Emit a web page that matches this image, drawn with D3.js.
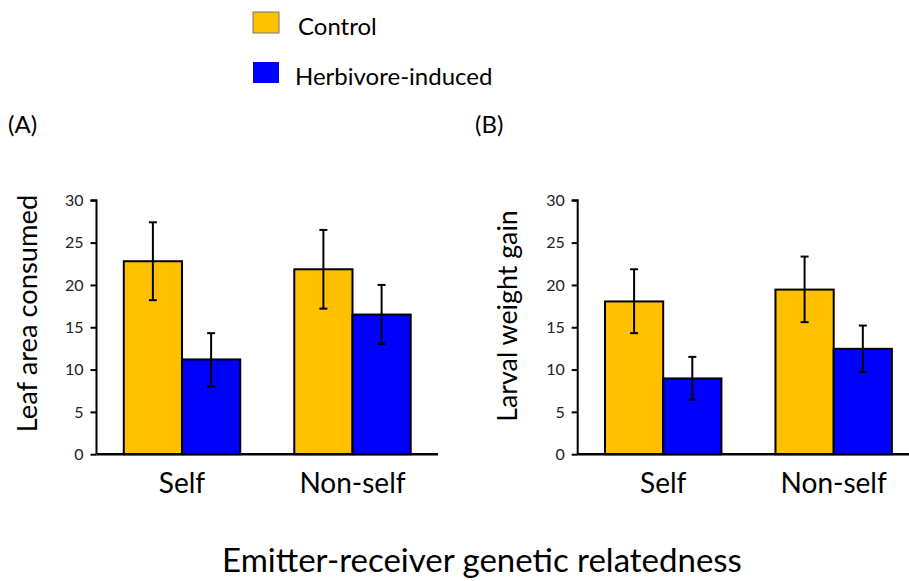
<!DOCTYPE html>
<html><head><meta charset="utf-8">
<script src="https://cdn.jsdelivr.net/npm/d3@7/dist/d3.min.js"></script>
<style>body{margin:0;background:#fff}svg{display:block}text{font-family:Lato,"Open Sans",sans-serif}</style>
</head><body><svg id="c" width="909" height="581"></svg>
<script>
const categories = ["Self", "Non-self"];
const seriesNames = ["Control", "Herbivore-induced"];
const leafMean = [[22.8, 11.2], [21.85, 16.5]];
const leafLow  = [[18.2, 8.0], [17.2, 13.0]];
const leafHigh = [[27.4, 14.3], [26.5, 20.0]];
const larvaMean = [[18.05, 8.95], [19.45, 12.45]];
const larvaLow  = [[14.3, 6.45], [15.6, 9.7]];
const larvaHigh = [[21.85, 11.5], [23.35, 15.2]];
const yTicks = [0, 5, 10, 15, 20, 25, 30];
const colors = ["#FFC000", "#0000FF"];

const svg = d3.select("#c");

function panel(ox, mean, low, high, ylabel, ylabX, ylabY, ylabSize, tag, tagX) {
  const w = 341.5, top = 200.3, bottom = 454.2;
  const g = svg.append("g");
  const x0 = d3.scaleBand().domain(categories).range([ox, ox + w]).paddingInner(0.317).paddingOuter(0.16);
  const x1 = d3.scaleBand().domain(seriesNames).range([0, x0.bandwidth()]);
  const y = d3.scaleLinear().domain([0, 30]).range([bottom, top]);

  categories.forEach((c, ci) => {
    seriesNames.forEach((s, si) => {
      g.append("rect")
        .attr("x", x0(c) + x1(s)).attr("y", y(mean[ci][si]))
        .attr("width", x1.bandwidth()).attr("height", y(0) - y(mean[ci][si]))
        .attr("fill", colors[si]).attr("stroke", "#000").attr("stroke-width", 2);
    });
  });
  categories.forEach((c, ci) => {
    seriesNames.forEach((s, si) => {
      const cx = x0(c) + x1(s) + x1.bandwidth() / 2;
      g.append("line").attr("x1", cx).attr("x2", cx).attr("y1", y(low[ci][si])).attr("y2", y(high[ci][si]))
        .attr("stroke", "#000").attr("stroke-width", 2);
      [low[ci][si], high[ci][si]].forEach(v => {
        g.append("line").attr("x1", cx - 4).attr("x2", cx + 4).attr("y1", y(v)).attr("y2", y(v))
          .attr("stroke", "#000").attr("stroke-width", 2);
      });
    });
  });

  const ya = d3.axisLeft(y).tickValues(yTicks).tickSize(6).tickPadding(7);
  const yg = g.append("g").attr("transform", `translate(${ox},0)`).call(ya);
  yg.select(".domain").attr("stroke", "#000").attr("stroke-width", 2).attr("d", `M-6,${top}H0V${bottom}`);
  yg.selectAll(".tick line").attr("stroke", "#000").attr("stroke-width", 2);
  yg.selectAll(".tick text").attr("font-size", 16).attr("fill", "#222").attr("font-family", "Lato");

  g.append("line").attr("x1", ox).attr("x2", ox + w).attr("y1", bottom).attr("y2", bottom)
    .attr("stroke", "#000").attr("stroke-width", 2.5);

  categories.forEach(c => {
    g.append("text").attr("x", x0(c) + x0.bandwidth() / 2).attr("y", 493)
      .attr("text-anchor", "middle").attr("font-size", 28).attr("fill", "#000").text(c);
  });

  g.append("text").attr("transform", `translate(${ylabX},${ylabY}) rotate(-90)`)
    .attr("text-anchor", "middle").attr("font-size", ylabSize).attr("fill", "#000").text(ylabel);

  g.append("text").attr("x", tagX).attr("y", 133).attr("font-size", 24).attr("fill", "#000").text(tag);
}

panel(96.5, leafMean, leafLow, leafHigh, "Leaf area consumed", 36.5, 313.5, 27.3, "(A)", 8);
panel(577.7, larvaMean, larvaLow, larvaHigh, "Larval weight gain", 517, 316, 26.8, "(B)", 475);

// legend
const leg = svg.append("g");
const legY = [12, 62];
const legTextX = [298, 295];
const legBase = [35, 85];
seriesNames.forEach((s, i) => {
  leg.append("rect").attr("x", 253).attr("y", legY[i]).attr("width", 26).attr("height", 21)
    .attr("fill", colors[i]).attr("stroke", i === 0 ? "#777" : "none").attr("stroke-width", 1);
  leg.append("text").attr("x", legTextX[i]).attr("y", legBase[i]).attr("font-size", 24).attr("fill", "#000").text(s);
});

svg.append("text").attr("x", 482).attr("y", 572).attr("text-anchor", "middle")
  .attr("font-size", 33).attr("fill", "#000").text("Emitter-receiver genetic relatedness");
</script></body></html>
